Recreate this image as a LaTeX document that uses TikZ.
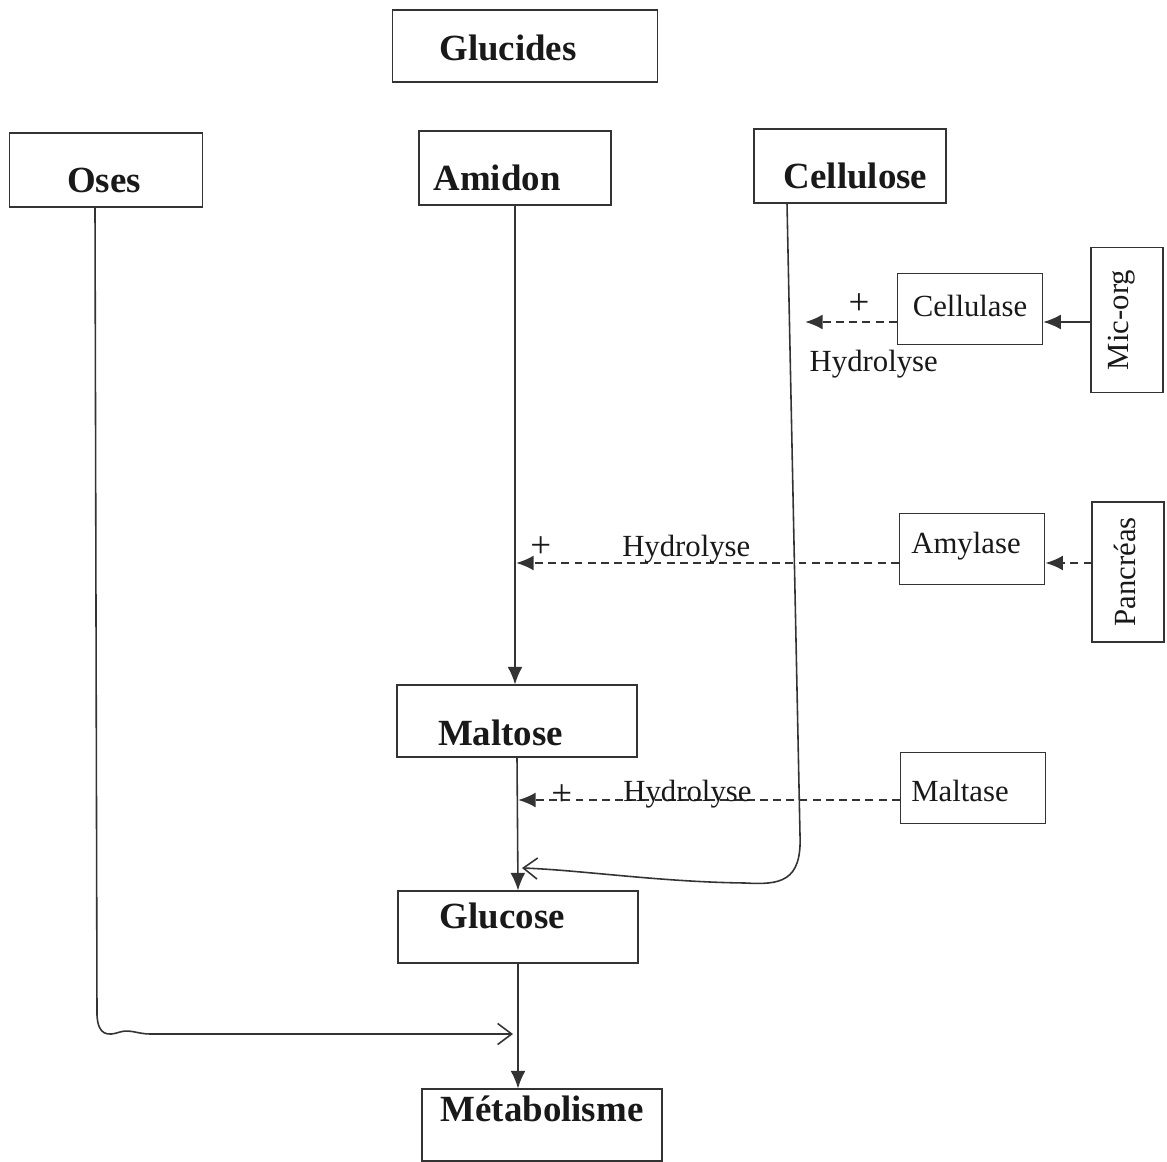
\documentclass[tikz,border=0pt]{standalone}
\usepackage{fontspec}
\setmainfont{Liberation Serif}
\usetikzlibrary{arrows.meta,calc}

\begin{document}
\begin{tikzpicture}[
      x=0.02cm, y=-0.02cm,
      box/.style={draw=black!80, line width=0.95pt, inner sep=0pt},
      wide/.style={box, minimum width=3.84cm, minimum height=1.47cm},
      long/.style={box, minimum width=4.8cm, minimum height=1.43cm},
      enzyme/.style={box, minimum width=2.9cm, minimum height=1.42cm},
      organ/.style={box, minimum width=1.43cm, minimum height=2.85cm},
      boldtxt/.style={font=\fontsize{21}{25}\selectfont\bfseries, text=black!90},
      plaintxt/.style={font=\fontsize{17.5}{21}\selectfont, text=black!90},
      plustxt/.style={font=\fontsize{21}{25}\selectfont, text=black!90},
      arrow/.style={-{Latex[length=10pt,width=8.5pt]}, line width=0.9pt, draw=black!80},
      dasharrow/.style={arrow, line width=1.3pt, dash pattern=on 4.5pt off 3pt},
      openarrow/.style={-{Straight Barb[length=8pt,width=12pt]}, line width=0.9pt, draw=black!80}
    ]
    \useasboundingbox (0,0) rectangle (1167,1162);

    % glucides and their three families
    \node[box, minimum width=5.3cm, minimum height=1.44cm,
      label={[boldtxt, xshift=-0.34cm, yshift=-0.04cm]center:Glucides}] (glucides) at (525,46) {};
    \node[wide, minimum width=3.86cm,
      label={[boldtxt, xshift=-0.04cm, yshift=-0.2cm]center:Oses}] (oses) at (106,170) {};
    \node[wide,
      label={[boldtxt, xshift=-0.36cm, yshift=-0.2cm]center:Amidon}] (amidon) at (515,168) {};
    \node[wide,
      label={[boldtxt, xshift=0.11cm, yshift=-0.2cm]center:Cellulose}] (cellulose) at (850,166) {};

    % enzymes and their sources
    \node[enzyme,
      label={[plaintxt, yshift=0.07cm]center:Cellulase}] (cellulase) at (970,309) {};
    \node[organ, minimum height=2.9cm,
      label={[plaintxt, rotate=90, yshift=0.11cm]center:Mic-org}] (micorg) at (1127,320) {};
    \node[enzyme,
      label={[plaintxt, xshift=-0.12cm, yshift=0.06cm]center:Amylase}] (amylase) at (972,549) {};
    \node[organ, minimum height=2.8cm,
      label={[plaintxt, rotate=90, yshift=0.06cm]center:Pancréas}] (pancreas) at (1128,572) {};
    \node[enzyme,
      label={[plaintxt, xshift=-0.26cm, yshift=-0.05cm]center:Maltase}] (maltase) at (973,788) {};

    % products
    \node[long,
      label={[boldtxt, xshift=-0.33cm, yshift=-0.24cm]center:Maltose}] (maltose) at (517,721) {};
    \node[long,
      label={[boldtxt, xshift=-0.31cm, yshift=0.23cm]center:Glucose}] (glucose) at (518,927) {};
    \node[long,
      label={[boldtxt, yshift=0.32cm]center:Métabolisme}] (metab) at (542,1125) {};

    \coordinate (cellhyd) at (805,322);
    \coordinate (amyhit) at (516,563);
    \coordinate (malhit) at (518,800);
    \coordinate (cellend) at (522,868);
    \coordinate (osesend) at (513,1034);

    \draw[arrow] (amidon.south) -- (amidon.south |- maltose.north);
    \draw[arrow] (maltose.south) -- (glucose.north);
    \draw[arrow] (glucose.south) -- (glucose.south |- metab.north);

    \draw[dasharrow] (cellhyd -| cellulase.west) -- (cellhyd)
      node[plustxt, pos=0.41, yshift=0.36cm] {+}
      node[plaintxt, pos=0.25, yshift=-0.84cm] {Hydrolyse};
    \draw[arrow] (cellhyd -| micorg.west) -- (cellhyd -| cellulase.east);

    \draw[dasharrow] (amyhit -| amylase.west) -- (amyhit)
      node[plustxt, pos=0.935, yshift=0.32cm] {+}
      node[plaintxt, pos=0.555, yshift=0.27cm] {Hydrolyse};
    \draw[dasharrow] (amyhit -| pancreas.west) -- (amyhit -| amylase.east);

    \draw[dasharrow] (malhit -| maltase.west) -- (malhit)
      node[plustxt, pos=0.885, yshift=0.1cm] {+}
      node[plaintxt, pos=0.556, yshift=0.11cm] {Hydrolyse};

    % hand drawn paths
    \draw[openarrow] ([xshift=-1.26cm]cellulose.south) -- (800,835)
      .. controls (802,882) and (780,885) .. (745,883)
      .. controls (660,882) and (580,870) .. (cellend);
    \draw[openarrow] ([xshift=-0.22cm]oses.south) -- (97,1015)
      .. controls (98,1036) and (108,1036) .. (120,1032)
      .. controls (130,1029) and (138,1034) .. (150,1034) -- (osesend);
  \end{tikzpicture}
\end{document}
